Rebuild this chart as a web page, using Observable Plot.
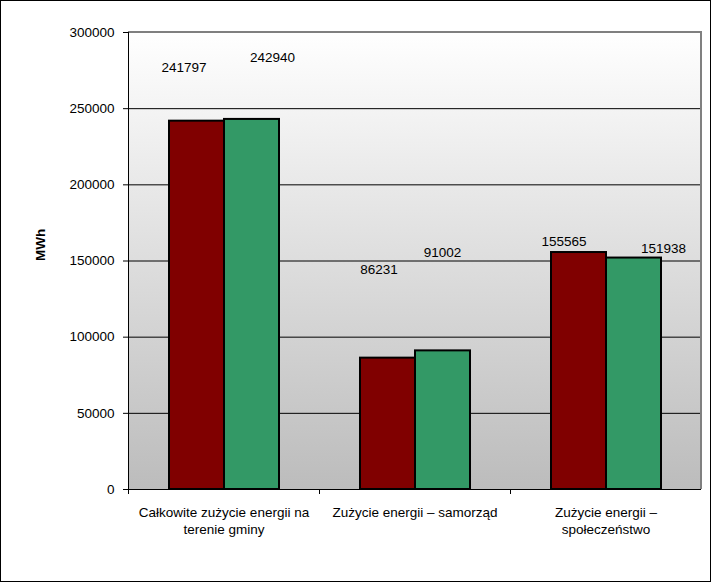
<!DOCTYPE html>
<html><head><meta charset="utf-8">
<script src="https://cdn.jsdelivr.net/npm/d3@7"></script>
<script src="https://cdn.jsdelivr.net/npm/@observablehq/plot@0.6"></script>
<style>body{margin:0;background:#fff}</style>
</head><body><div id="chart"></div>
<script>
const categories = ["Całkowite zużycie energii na terenie gminy", "Zużycie energii – samorząd", "Zużycie energii – społeczeństwo"];
const tickLabels = ["Całkowite zużycie energii na\nterenie gminy", "Zużycie energii – samorząd", "Zużycie energii –\nspołeczeństwo"];
const seriesA = [241797, 86231, 155565];
const seriesB = [242940, 91002, 151938];
const yTicks = [0, 50000, 100000, 150000, 200000, 250000, 300000];
const gridTicks = [50000, 100000, 150000, 200000, 250000];
// label nudges (pixels) to mimic the reference's label placement
const labelNudgeA = [[-40, -53], [-36, -88], [-42, -11]];
const labelNudgeB = [[48.5, -62], [27.5, -98], [57.5, -9]];

const W = 711, H = 582, ML = 128, MR = 10, MT = 32, MB = 93;
const bw = (W - ML - MR) / categories.length;
const font = "'Liberation Sans', Arial, sans-serif";

const rowsA = categories.map((c, i) => ({category: c, value: seriesA[i]}));
const rowsB = categories.map((c, i) => ({category: c, value: seriesB[i]}));

const background = (index, scales, values, dims) => {
  const g = d3.create("svg:g");
  const grad = g.append("defs").append("linearGradient").attr("id", "bgGrad")
    .attr("x1", 0).attr("y1", 0).attr("x2", 0).attr("y2", 1);
  grad.append("stop").attr("offset", "0%").attr("stop-color", "#ffffff");
  grad.append("stop").attr("offset", "100%").attr("stop-color", "#bcbcbc");
  const y0 = scales.y(0), y1 = scales.y(300000);
  g.append("rect").attr("x", dims.marginLeft).attr("y", y1)
    .attr("width", dims.width - dims.marginLeft - dims.marginRight)
    .attr("height", y0 - y1).attr("fill", "url(#bgGrad)");
  return g.node();
};

const frameLines = (index, scales, values, dims) => {
  const g = d3.create("svg:g");
  const y0 = scales.y(0), y1 = scales.y(300000);
  const xl = dims.marginLeft, xr = dims.width - dims.marginRight;
  // top & right gray border
  g.append("path").attr("d", `M${xl},${y1}H${xr}V${y0}`)
    .attr("fill", "none").attr("stroke", "#808080").attr("stroke-width", 2);
  // left axis line
  g.append("line").attr("x1", xl + 0.5).attr("x2", xl + 0.5).attr("y1", y1).attr("y2", y0 + 0.5)
    .attr("stroke", "#000");
  // category boundary ticks
  const band = scales.x.bandwidth || bw;
  const edges = categories.map(c => scales.x(c)).concat([scales.x(categories[categories.length - 1]) + band]);
  edges.forEach(x => {
    g.append("line").attr("x1", Math.round(x) + 0.5).attr("x2", Math.round(x) + 0.5)
      .attr("y1", y0).attr("y2", y0 + 5).attr("stroke", "#000");
  });
  // outer border
  g.append("rect").attr("x", 0.5).attr("y", 0.5).attr("width", dims.width - 1).attr("height", dims.height - 1)
    .attr("fill", "none").attr("stroke", "#000");
  return g.node();
};

const labelMarks = [];
rowsA.forEach((d, i) => labelMarks.push(Plot.text([d], {x: "category", y: "value", text: d => String(d.value),
  dx: labelNudgeA[i][0], dy: labelNudgeA[i][1], fontSize: 13.5, fill: "#000"})));
rowsB.forEach((d, i) => labelMarks.push(Plot.text([d], {x: "category", y: "value", text: d => String(d.value),
  dx: labelNudgeB[i][0], dy: labelNudgeB[i][1], fontSize: 13.5, fill: "#000"})));

const chart = Plot.plot({
  width: W, height: H,
  marginLeft: ML, marginRight: MR, marginTop: MT, marginBottom: MB,
  style: {fontFamily: font, fontSize: "13.5px", color: "#000", background: "#fff"},
  x: {type: "band", domain: categories, padding: 0},
  y: {domain: [0, 300000]},
  marks: [
    background,
    Plot.ruleY(gridTicks, {stroke: "#000", strokeWidth: 1}),
    Plot.barY(rowsA, {x: "category", y: "value", fill: "#800000", stroke: "#000", strokeWidth: 2,
      insetLeft: bw * 41 / 191, insetRight: bw * 95 / 191}),
    Plot.barY(rowsB, {x: "category", y: "value", fill: "#339966", stroke: "#000", strokeWidth: 2,
      insetLeft: bw * 96 / 191, insetRight: bw * 40 / 191}),
    Plot.ruleY([0], {stroke: "#000", strokeWidth: 1}),
    frameLines,
    Plot.axisY(yTicks, {tickSize: 5, tickPadding: 9, tickFormat: d => String(d), fontSize: 13.5, label: null}),
    Plot.axisX({tickSize: 0, tickPadding: 16, lineHeight: 1.25, fontSize: 13.5, label: null,
      tickFormat: d => tickLabels[categories.indexOf(d)]}),
    Plot.text(["MWh"], {frameAnchor: "left", dx: -88, rotate: -90, fontWeight: "bold", fontSize: 13.5, fill: "#000"}),
    ...labelMarks
  ]
});
document.getElementById("chart").appendChild(chart);
</script>
</body></html>
